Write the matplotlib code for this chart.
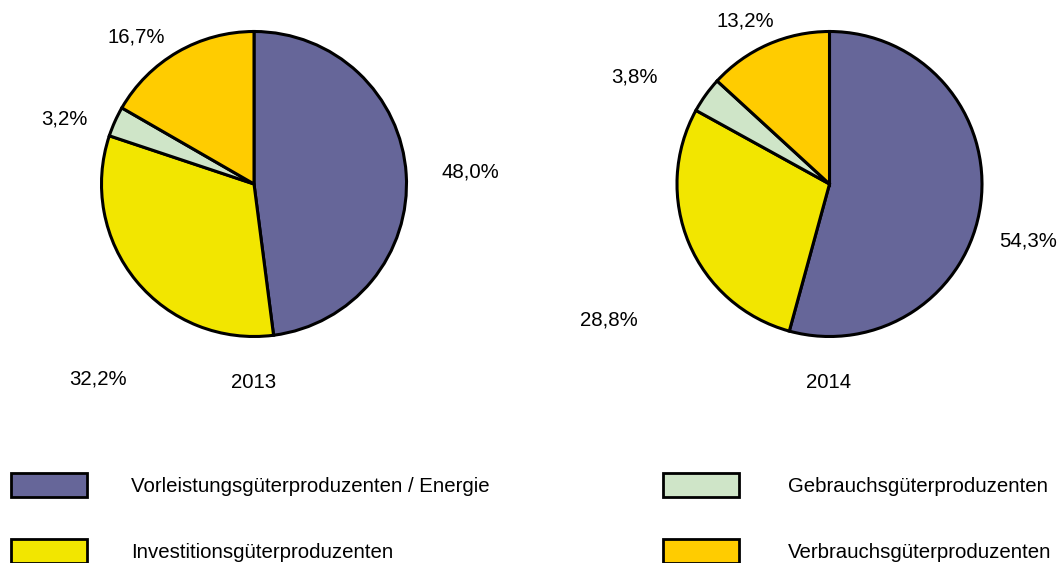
import matplotlib
matplotlib.use("Agg")
import matplotlib.pyplot as plt
from matplotlib.patches import Rectangle

plt.rcParams['font.family'] = ['Liberation Sans', 'DejaVu Sans']

categories = ["Vorleistungsgüterproduzenten / Energie", "Investitionsgüterproduzenten",
              "Gebrauchsgüterproduzenten", "Verbrauchsgüterproduzenten"]
values_2013 = [48.0, 32.2, 3.2, 16.7]
values_2014 = [54.3, 28.8, 3.8, 13.2]
years = ["2013", "2014"]
colors = ["#666699", "#F2E600", "#CFE5C8", "#FFCC00"]

# layout (pixel coordinates)
W, H = 1064, 563
centers = [(254, 184), (829.5, 184)]
radius = 152.5
label_pos = [
    [(470, 172), (98, 379), (64, 119), (136, 37)],
    [(1028, 241), (609, 320), (634, 77), (745, 21)],
]
year_pos = [(254, 383), (829, 383)]
legend_rects = [(11, 473), (11, 539), (663, 473), (663, 539)]
legend_text = [(131, 486), (131, 552), (788, 486), (788, 552)]
rect_w, rect_h = 76, 24
fs = 14.7

fig = plt.figure(figsize=(W / 100, H / 100), dpi=100)
ax = fig.add_axes([0, 0, 1, 1])

def fmt(v):
    return f"{v:.1f}%".replace(".", ",")

for i, vals in enumerate([values_2013, values_2014]):
    # y axis is inverted (pixel coordinates), so -90 is the top and
    # counter-clockwise in data space is clockwise on screen
    ax.pie(vals, colors=colors, startangle=-90, counterclock=True,
           center=centers[i], radius=radius, frame=True,
           wedgeprops=dict(edgecolor="black", linewidth=2.2))
    for v, (x, y) in zip(vals, label_pos[i]):
        ax.text(x, y, fmt(v), ha="center", va="center", fontsize=fs)
    ax.text(year_pos[i][0], year_pos[i][1], years[i], ha="center", va="center", fontsize=fs)

for c, (rx, ry), (tx, ty), cat in zip(colors, legend_rects, legend_text, categories):
    ax.add_patch(Rectangle((rx, ry), rect_w, rect_h, facecolor=c, edgecolor="black",
                           linewidth=2, clip_on=False))
    ax.text(tx, ty, cat, ha="left", va="center", fontsize=fs)

ax.set_xlim(0, W)
ax.set_ylim(H, 0)
ax.set_aspect("auto")
ax.axis("off")

fig.savefig("out.png", dpi=100)
